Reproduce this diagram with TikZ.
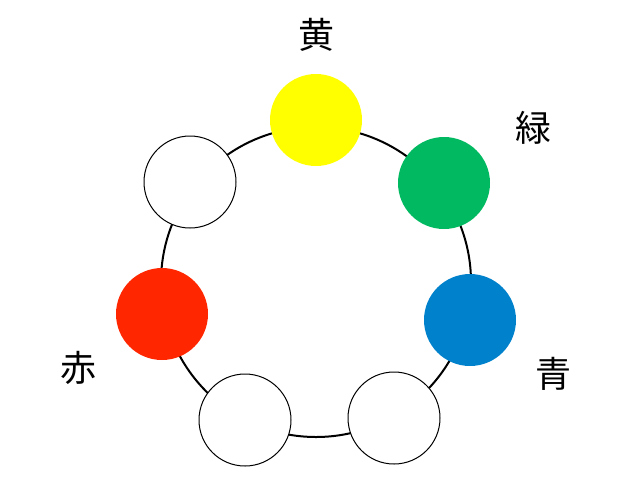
\documentclass[tikz,border=0pt]{standalone}
\usepackage{fontspec}
\newfontfamily\cjk{Noto Sans CJK JP}
\definecolor{cy}{HTML}{FFFF00}
\definecolor{cg}{HTML}{00B960}
\definecolor{cb}{HTML}{0081CC}
\definecolor{cr}{HTML}{FF2600}
\begin{document}
\begin{tikzpicture}[x=1pt,y=-1pt,
  dot/.style={circle,minimum size=92pt,inner sep=0pt},
  hollow/.style={dot,draw=black,line width=1pt,fill=white},
  sy/.style={dot,fill=cy}, sg/.style={dot,fill=cg},
  sb/.style={dot,fill=cb}, sr/.style={dot,fill=cr},
  lab/.style={font=\cjk\fontsize{36}{36}\selectfont}]
\useasboundingbox (0,0) rectangle (620,480);
\node[circle,draw,line width=2pt,minimum size=310pt,inner sep=0pt] (ring) at (316,282) {};
\foreach \n/\x/\y/\s in {y/316/120/sy,g/444/183/sg,b/470/320/sb,w1/394/418/hollow,w2/245/420/hollow,r/162/314/sr,w3/190/182/hollow}
  \node[\s] (\n) at (\x,\y) {};
\node[lab] (ly) at (316,35) {黄};
\node[lab] (lg) at (533,128) {緑};
\node[lab] (lb) at (553,374) {青};
\node[lab] (lr) at (78,368) {赤};
\end{tikzpicture}
\end{document}
